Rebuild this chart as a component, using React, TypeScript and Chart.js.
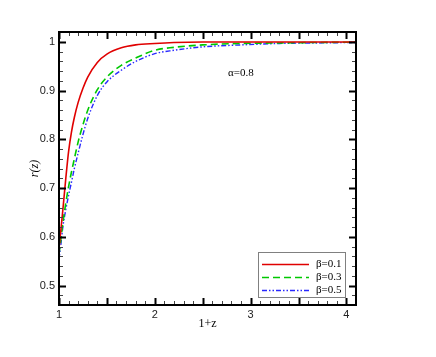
import React, { useEffect, useRef } from "react";
import { Chart, registerables } from "chart.js";

Chart.register(...registerables);

// 1+z sample positions
const xValues = [1, 1.02, 1.04, 1.07, 1.1, 1.13, 1.16, 1.2, 1.25, 1.3, 1.4, 1.5, 1.65, 1.8, 2.0, 2.2, 2.5, 2.9, 3.3, 3.7, 4.1];
// r(z) for each beta (alpha = 0.8)
const beta01 = [0.575, 0.615, 0.655, 0.718, 0.775, 0.815, 0.845, 0.876, 0.905, 0.928, 0.958, 0.975, 0.988, 0.994, 0.997, 0.999, 1.0, 1.0, 1.0, 1.0, 1.0];
const beta03 = [0.565, 0.595, 0.628, 0.668, 0.703, 0.733, 0.76, 0.795, 0.83, 0.86, 0.902, 0.928, 0.952, 0.967, 0.983, 0.989, 0.994, 0.997, 0.998, 0.999, 0.9995];
const beta05 = [0.555, 0.585, 0.62, 0.655, 0.685, 0.712, 0.74, 0.772, 0.81, 0.843, 0.89, 0.918, 0.942, 0.96, 0.976, 0.983, 0.99, 0.994, 0.997, 0.998, 0.999];

const seriesLabels = ["β=0.1", "β=0.3", "β=0.5"];
const xTickLabels = [1, 2, 3, 4];
const yTickLabels = [0.5, 0.6, 0.7, 0.8, 0.9, 1];
const annotationText = "α=0.8";
const xTitle = "1+z";
const yTitle = "r(z)";

const SERIF = "'Liberation Serif', 'Times New Roman', serif";
const SANS = "'Liberation Sans', Arial, sans-serif";

const framePlugin = {
  id: "framePlugin",
  afterDatasetsDraw(chart: any) {
    const { ctx, chartArea: a } = chart;
    const xs = chart.scales.x;
    const ys = chart.scales.y;
    ctx.save();
    ctx.strokeStyle = "#000";
    // x ticks: minor every 0.1, major every 0.5
    for (let i = 10; i <= 41; i++) {
      const major = i % 5 === 0;
      const px = Math.round(xs.getPixelForValue(i / 10)) + 0.5;
      const len = major ? 7 : 4;
      ctx.lineWidth = major ? 2 : 1;
      ctx.strokeStyle = major ? "#000" : "#444";
      ctx.beginPath();
      ctx.moveTo(px, a.bottom);
      ctx.lineTo(px, a.bottom - len);
      ctx.moveTo(px, a.top);
      ctx.lineTo(px, a.top + len);
      ctx.stroke();
    }
    // y ticks: minor every 0.02, major every 0.1
    for (let i = 46; i <= 102; i += 2) {
      const major = i % 10 === 0;
      const py = Math.round(ys.getPixelForValue(i / 100)) + 0.5;
      const len = major ? 7 : 4;
      ctx.lineWidth = major ? 2 : 1;
      ctx.strokeStyle = major ? "#000" : "#444";
      ctx.beginPath();
      ctx.moveTo(a.left, py);
      ctx.lineTo(a.left + len, py);
      ctx.moveTo(a.right, py);
      ctx.lineTo(a.right - len, py);
      ctx.stroke();
    }
    // frame
    ctx.strokeStyle = "#000";
    ctx.lineWidth = 2;
    ctx.strokeRect(a.left, a.top, a.right - a.left, a.bottom - a.top);

    // annotation
    ctx.fillStyle = "#000";
    ctx.font = `11px ${SERIF}`;
    ctx.textAlign = "left";
    ctx.textBaseline = "middle";
    ctx.fillText(annotationText, a.left + 169, a.top + 41);

    // legend box
    const bw = 87, bh = 45;
    const bx = a.right - 11 - bw;
    const by = a.bottom - 8 - bh;
    ctx.fillStyle = "#fff";
    ctx.fillRect(bx, by, bw, bh);
    ctx.strokeStyle = "#808080";
    ctx.lineWidth = 1;
    ctx.strokeRect(bx + 0.5, by + 0.5, bw, bh);
    chart.data.datasets.forEach((ds: any, i: number) => {
      const ly = Math.round(by + 11.5 + i * 13) + 0.5;
      ctx.strokeStyle = ds.borderColor;
      ctx.lineWidth = ds.borderWidth;
      ctx.setLineDash(ds.borderDash || []);
      ctx.beginPath();
      ctx.moveTo(bx + 4, ly);
      ctx.lineTo(bx + 51, ly);
      ctx.stroke();
      ctx.setLineDash([]);
      ctx.fillStyle = "#000";
      ctx.font = `11px ${SERIF}`;
      ctx.textAlign = "left";
      ctx.textBaseline = "middle";
      ctx.fillText(ds.label, bx + 58, ly);
    });
    ctx.restore();
  },
};

export default function App() {
  const ref = useRef<HTMLCanvasElement>(null);
  useEffect(() => {
    if (!ref.current) return;
    const mk = (ys: number[]) => xValues.map((x, i) => ({ x, y: ys[i] }));
    const chart = new Chart(ref.current, {
      type: "line",
      data: {
        datasets: [
          {
            label: seriesLabels[0],
            data: mk(beta01),
            borderColor: "#e00000",
            borderWidth: 1.6,
            pointRadius: 0,
            cubicInterpolationMode: "monotone",
          },
          {
            label: seriesLabels[1],
            data: mk(beta03),
            borderColor: "#00c800",
            borderWidth: 1.6,
            borderDash: [7, 4],
            pointRadius: 0,
            cubicInterpolationMode: "monotone",
          },
          {
            label: seriesLabels[2],
            data: mk(beta05),
            borderColor: "#2828ff",
            borderWidth: 1.4,
            borderDash: [5, 2, 1.5, 2, 1.5, 2],
            pointRadius: 0,
            cubicInterpolationMode: "monotone",
          },
        ] as any,
      },
      options: {
        animation: false,
        responsive: false,
        layout: { padding: { left: 0, right: 72, top: 24, bottom: 0 } },
        plugins: { legend: { display: false }, tooltip: { enabled: false } },
        scales: {
          x: {
            type: "linear",
            min: 1,
            max: 4.1,
            grid: { display: false, drawTicks: false },
            border: { display: false },
            ticks: {
              font: { family: SANS, size: 11 },
              color: "#222",
              padding: 3,
              maxRotation: 0,
              autoSkip: false,
              callback: (v: any) => String(v),
            },
            afterBuildTicks: (s: any) => {
              s.ticks = xTickLabels.map((v) => ({ value: v }));
            },
            afterFit: (s: any) => {
              s.height = 44;
            },
            title: {
              display: true,
              text: xTitle,
              font: { family: SERIF, size: 12 },
              color: "#000",
              padding: { top: 0, bottom: 18 },
            },
          },
          y: {
            type: "linear",
            min: 0.46,
            max: 1.0205,
            grid: { display: false, drawTicks: false },
            border: { display: false },
            ticks: {
              font: { family: SANS, size: 11 },
              color: "#222",
              padding: 4,
              autoSkip: false,
              callback: (v: any) => String(Number(Number(v).toFixed(1))),
            },
            afterBuildTicks: (s: any) => {
              s.ticks = yTickLabels.map((v) => ({ value: v }));
            },
            afterFit: (s: any) => {
              s.width = 51;
            },
            title: {
              display: true,
              text: yTitle,
              font: { family: SERIF, size: 12, style: "italic" },
              color: "#000",
              padding: { top: 20, bottom: 0 },
            },
          },
        },
      } as any,
      plugins: [framePlugin],
    });
    return () => chart.destroy();
  }, []);
  return (
    <div style={{ width: 420, height: 341 }}>
      <canvas ref={ref} width={420} height={341} />
    </div>
  );
}
